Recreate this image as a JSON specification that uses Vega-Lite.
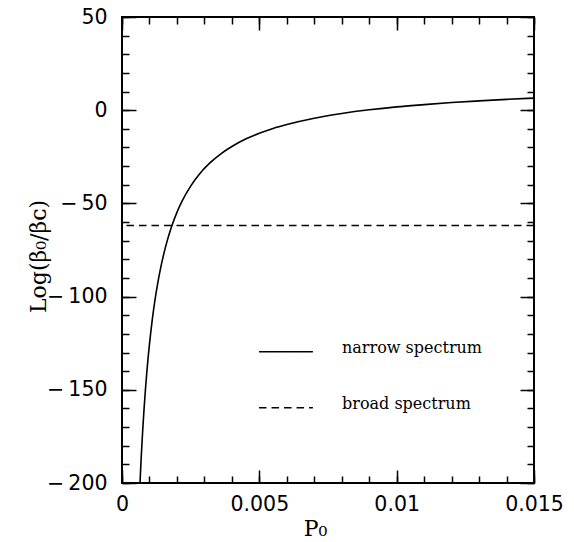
{
  "$schema": "https://vega.github.io/schema/vega-lite/v6.json",
  "width": 412,
  "height": 466,
  "autosize": "none",
  "padding": {"left": 122, "top": 17, "right": 40, "bottom": 59},
  "background": "white",
  "datasets": {
    "curve": [
      {"p": 0.000655, "v": -200},
      {"p": 0.0007, "v": -186},
      {"p": 0.00075, "v": -172.6},
      {"p": 0.0008, "v": -160.9},
      {"p": 0.00085, "v": -150.5},
      {"p": 0.0009, "v": -141.2},
      {"p": 0.00095, "v": -132.9},
      {"p": 0.001, "v": -125.5},
      {"p": 0.0011, "v": -112.6},
      {"p": 0.0012, "v": -101.9},
      {"p": 0.0013, "v": -92.9},
      {"p": 0.0014, "v": -85.1},
      {"p": 0.0015, "v": -78.4},
      {"p": 0.0016, "v": -72.5},
      {"p": 0.0018, "v": -62.7},
      {"p": 0.002, "v": -54.8},
      {"p": 0.0022, "v": -48.4},
      {"p": 0.0025, "v": -40.7},
      {"p": 0.0028, "v": -34.6},
      {"p": 0.0032, "v": -28.3},
      {"p": 0.0036, "v": -23.4},
      {"p": 0.004, "v": -19.5},
      {"p": 0.0045, "v": -15.5},
      {"p": 0.005, "v": -12.4},
      {"p": 0.0055, "v": -9.8},
      {"p": 0.006, "v": -7.7},
      {"p": 0.007, "v": -4.3},
      {"p": 0.008, "v": -1.8},
      {"p": 0.009, "v": 0.2},
      {"p": 0.01, "v": 1.8},
      {"p": 0.011, "v": 3.0},
      {"p": 0.012, "v": 4.1},
      {"p": 0.013, "v": 5.0},
      {"p": 0.014, "v": 5.8},
      {"p": 0.015, "v": 6.5}
    ],
    "broad": [{"level": -61.8}],
    "legend": [
      {"label": "narrow spectrum", "x1": 0.00499, "x2": 0.00695, "ly": -129.6, "tx": 0.00801, "ty": -130.3},
      {"label": "broad spectrum", "x1": 0.00499, "x2": 0.00695, "ly": -159.6, "tx": 0.00801, "ty": -160.3}
    ]
  },
  "resolve": {"axis": {"x": "independent", "y": "independent"}},
  "layer": [
    {
      "data": {"name": "curve"},
      "mark": {"type": "line", "color": "black", "strokeWidth": 1.6, "interpolate": "monotone", "clip": true},
      "encoding": {
        "x": {"field": "p", "type": "quantitative", "scale": {"domain": [0, 0.015], "nice": false, "zero": false},
          "axis": {"orient": "bottom", "values": [0, 0.005, 0.01, 0.015], "labelExpr": "datum.value == 0 ? '0' : format(datum.value, '.3~f')", "tickSize": -13, "labelPadding": 24, "labelFlush": false, "labelOverlap": false, "title": "P₀", "titleX": 193, "titleY": 52, "titleBaseline": "alphabetic", "titleAlign": "center", "titleAnchor": null}},
        "y": {"field": "v", "type": "quantitative", "scale": {"domain": [-200, 50], "nice": false, "zero": false},
          "axis": {"orient": "left", "values": [-200, -150, -100, -50, 0, 50], "labelExpr": "datum.value < 0 ? '−\u2009' + format(-datum.value, 'd') : format(datum.value, 'd')", "tickSize": -14, "labelPadding": 29, "labelOverlap": false, "labelFlush": false, "title": "Log(β₀/βᴄ)", "titleAngle": -90, "titleX": -77, "titleY": 239, "titleBaseline": "alphabetic", "titleAlign": "center", "titleAnchor": null}}
      }
    },
    {
      "data": {"name": "curve"},
      "mark": {"type": "line", "opacity": 0},
      "encoding": {
        "x": {"field": "p", "type": "quantitative", "axis": {"orient": "bottom", "values": [0, 0.001, 0.002, 0.003, 0.004, 0.005, 0.006, 0.007, 0.008, 0.009, 0.01, 0.011, 0.012, 0.013, 0.014, 0.015], "tickSize": -7, "labels": false, "title": null}},
        "y": {"field": "v", "type": "quantitative", "axis": {"orient": "left", "values": [-200, -190, -180, -170, -160, -150, -140, -130, -120, -110, -100, -90, -80, -70, -60, -50, -40, -30, -20, -10, 0, 10, 20, 30, 40, 50], "tickSize": -7, "labels": false, "title": null}}
      }
    },
    {
      "data": {"name": "curve"},
      "mark": {"type": "line", "opacity": 0},
      "encoding": {
        "x": {"field": "p", "type": "quantitative", "axis": {"orient": "top", "values": [0, 0.005, 0.01, 0.015], "tickSize": -13, "labels": false, "title": null}},
        "y": {"field": "v", "type": "quantitative", "axis": {"orient": "right", "values": [-200, -150, -100, -50, 0, 50], "tickSize": -14, "labels": false, "title": null}}
      }
    },
    {
      "data": {"name": "curve"},
      "mark": {"type": "line", "opacity": 0},
      "encoding": {
        "x": {"field": "p", "type": "quantitative", "axis": {"orient": "top", "values": [0, 0.001, 0.002, 0.003, 0.004, 0.005, 0.006, 0.007, 0.008, 0.009, 0.01, 0.011, 0.012, 0.013, 0.014, 0.015], "tickSize": -7, "labels": false, "title": null}},
        "y": {"field": "v", "type": "quantitative", "axis": {"orient": "right", "values": [-200, -190, -180, -170, -160, -150, -140, -130, -120, -110, -100, -90, -80, -70, -60, -50, -40, -30, -20, -10, 0, 10, 20, 30, 40, 50], "tickSize": -7, "labels": false, "title": null}}
      }
    },
    {
      "data": {"name": "broad"},
      "mark": {"type": "rule", "color": "black", "strokeWidth": 1.5, "strokeDash": [7.5, 5]},
      "encoding": {
        "y": {"field": "level", "type": "quantitative", "axis": null}
      }
    },
    {
      "data": {"name": "legend"},
      "mark": {"type": "rule", "color": "black", "strokeWidth": 1.5},
      "encoding": {
        "x": {"field": "x1", "type": "quantitative", "axis": null},
        "x2": {"field": "x2"},
        "y": {"field": "ly", "type": "quantitative", "axis": null},
        "strokeDash": {"field": "label", "type": "nominal", "scale": {"domain": ["narrow spectrum", "broad spectrum"], "range": [[1, 0], [7.5, 5]]}, "legend": null}
      }
    },
    {
      "data": {"name": "legend"},
      "mark": {"type": "text", "align": "left", "baseline": "alphabetic", "font": "DejaVu Serif", "fontSize": 16, "color": "black"},
      "encoding": {
        "x": {"field": "tx", "type": "quantitative", "axis": null},
        "y": {"field": "ty", "type": "quantitative", "axis": null},
        "text": {"field": "label"}
      }
    }
  ],
  "config": {
    "view": {"stroke": "black", "strokeWidth": 2},
    "axis": {
      "domain": false,
      "grid": false,
      "tickColor": "black",
      "tickWidth": 1.5,
      "labelColor": "black",
      "labelFont": "DejaVu Sans",
      "labelFontSize": 20.5,
      "titleColor": "black",
      "titleFont": "DejaVu Serif",
      "titleFontSize": 22,
      "titleFontWeight": "normal"
    }
  }
}
